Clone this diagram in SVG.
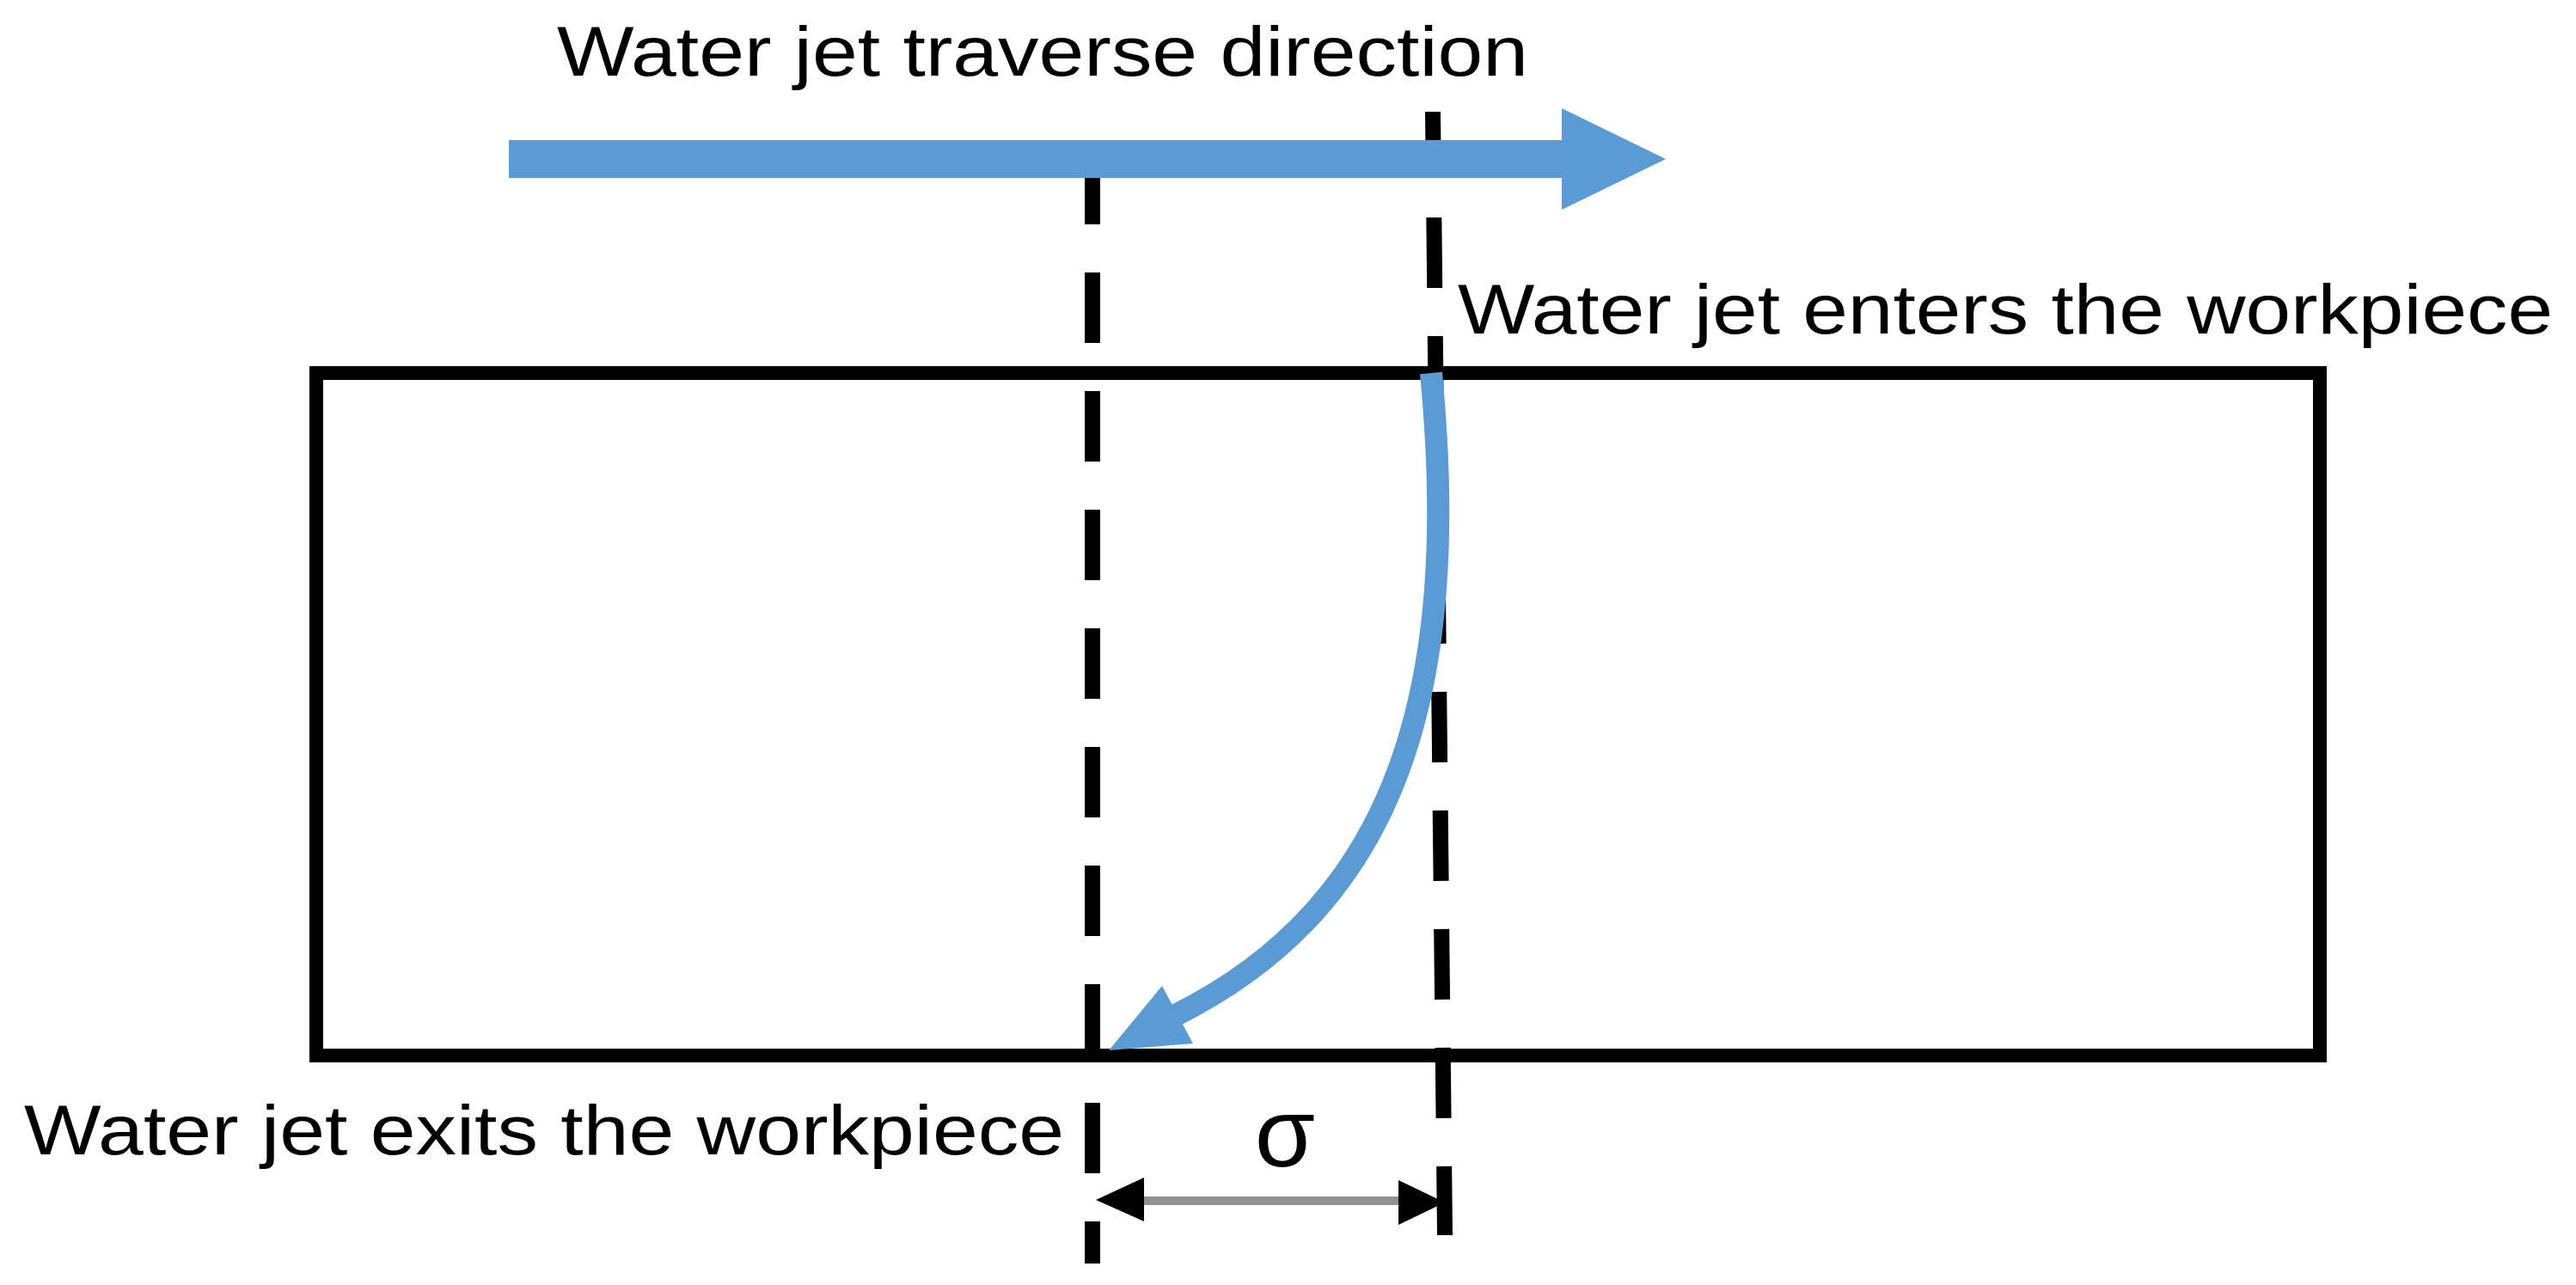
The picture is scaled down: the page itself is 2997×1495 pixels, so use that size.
<svg xmlns="http://www.w3.org/2000/svg" width="2997" height="1495" viewBox="0 0 2997 1495">
  <style>
    .lbl { font-family: "Liberation Sans", Arial, sans-serif; font-size: 81px; fill: #000; }
    .dash { stroke: #000; stroke-width: 18; fill: none; stroke-dasharray: 82 56; }
    .blue { fill: #5B9BD5; }
    .jet { stroke: #5B9BD5; stroke-width: 26; fill: none; stroke-linecap: butt; }
  </style>
  <rect width="2997" height="1495" fill="#fff"/>

  <g id="workpiece">
    <rect x="368" y="434" width="2331" height="794" fill="none" stroke="#000" stroke-width="16"/>
  </g>

  <g id="label-traverse">
    <text class="lbl" x="648" y="88" textLength="1130" lengthAdjust="spacingAndGlyphs">Water jet traverse direction</text>
  </g>
  <g id="label-enters">
    <text class="lbl" x="1696" y="388" textLength="1274" lengthAdjust="spacingAndGlyphs">Water jet enters the workpiece</text>
  </g>
  <g id="label-exits">
    <text class="lbl" x="28" y="1343" textLength="1210" lengthAdjust="spacingAndGlyphs">Water jet exits the workpiece</text>
  </g>
  <g id="label-sigma">
    <text class="lbl" x="1495" y="1357" text-anchor="middle" style="font-size:114px">σ</text>
  </g>

  <g id="connectors">
    <!-- dashed reference lines -->
    <line class="dash" x1="1271" y1="179" x2="1271" y2="1470"/>
    <line class="dash" x1="1667" y1="130" x2="1681" y2="1437" stroke-dashoffset="15"/>

    <!-- traverse direction arrow -->
    <g id="traverse-arrow">
      <rect class="blue" x="592" y="163" width="1230" height="44"/>
      <polygon class="blue" points="1817,126 1938,185 1817,244"/>
    </g>

    <!-- jet path curve -->
    <g id="jet-path">
      <path class="jet" d="M1665,434 C1700,800 1628,1052 1366,1182"/>
      <polygon class="blue" points="1290,1222 1352,1147 1388,1214"/>
    </g>

    <!-- sigma dimension -->
    <g id="sigma-dimension">
      <line x1="1325" y1="1397" x2="1632" y2="1397" stroke="#929292" stroke-width="10"/>
      <polygon points="1275,1396 1331,1370 1331,1421" fill="#000"/>
      <polygon points="1681,1399 1627,1373 1627,1425" fill="#000"/>
    </g>
  </g>
</svg>
